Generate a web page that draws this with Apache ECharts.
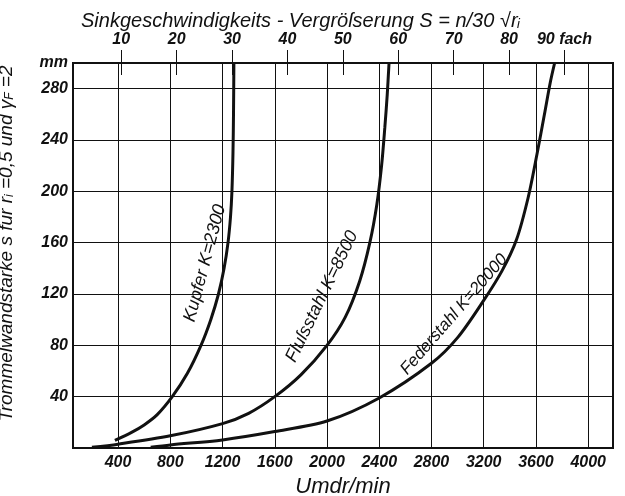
<!DOCTYPE html>
<html>
<head>
<meta charset="utf-8">
<script src="https://cdn.jsdelivr.net/npm/echarts@6.0.0/dist/echarts.min.js"></script>
<style>
  html, body { margin: 0; padding: 0; background: #fff; }
  #main { width: 625px; height: 496px; }
</style>
</head>
<body>
<div id="main"></div>
<script>
// Umdrehungen pro Minute (untere Achse)
const nTicks = [400, 800, 1200, 1600, 2000, 2400, 2800, 3200, 3600, 4000];
// Vergroesserung S (obere Achse)
const sTicks = [10, 20, 30, 40, 50, 60, 70, 80, 90];
// Wandstaerke mm
const yTicks = [40, 80, 120, 160, 200, 240, 280];

const nMin = 55;
const nMax = 4190;
const sMax = 300;
// S = n/30 * sqrt(r_i), r_i = 0,5
const sFactor = Math.SQRT1_2 / 30;

// Kurven [n, s]
const kupfer = [
  [376, 6], [500, 12], [600, 18], [700, 26], [815, 40], [930, 58],
  [1035, 80], [1110, 100], [1169, 120], [1212, 140], [1242, 160],
  [1261, 180], [1272, 200], [1280, 230], [1284, 260], [1287, 300]
];
const flussstahl = [
  [200, 0.5], [400, 3], [800, 9.5], [1200, 19], [1400, 27], [1600, 40],
  [1800, 57], [2000, 80], [2140, 102], [2250, 130], [2328, 160],
  [2382, 190], [2418, 220], [2443, 250], [2461, 275], [2475, 300]
];
const federstahl = [
  [650, 0.5], [800, 2.4], [1200, 6.3], [1600, 12.8], [2000, 21],
  [2400, 39], [2800, 66], [3000, 86], [3200, 115], [3340, 138],
  [3450, 162], [3540, 195], [3610, 230], [3665, 260], [3710, 285], [3743, 300]
];

const ink = '#111';
const font = 'Liberation Sans';

function curve(name, data, label, coord, rot, size) {
  return {
    name: name,
    type: 'line',
    xAxisIndex: 0,
    yAxisIndex: 0,
    data: data,
    smooth: 0.3,
    symbol: 'none',
    lineStyle: { color: ink, width: 3 },
    markPoint: {
      symbol: 'circle',
      symbolSize: 1,
      itemStyle: { color: 'rgba(0,0,0,0)' },
      data: [{ coord: coord }],
      label: {
        show: true,
        position: 'inside',
        formatter: label,
        rotate: rot,
        color: ink,
        fontSize: size,
        fontStyle: 'italic',
        fontFamily: font
      }
    }
  };
}

const chart = echarts.init(document.getElementById('main'));

chart.setOption({
  animation: false,
  backgroundColor: '#fff',
  title: {
    text: 'Sinkgeschwindigkeits - Vergröſserung S = n/30 √rᵢ',
    left: 76,
    top: 6,
    textStyle: { color: ink, fontSize: 20, fontStyle: 'italic', fontWeight: 'normal', fontFamily: font }
  },
  grid: {
    left: 73, right: 12, top: 63, bottom: 48,
    outerBoundsMode: 'none',
    show: true,
    borderColor: ink,
    borderWidth: 2
  },
  xAxis: [
    {
      type: 'value',
      position: 'bottom',
      min: nMin,
      max: nMax,
      name: 'Umdr/min',
      nameLocation: 'middle',
      nameGap: 26,
      nameTextStyle: { color: ink, fontSize: 22, fontStyle: 'italic', fontFamily: font },
      axisLine: { lineStyle: { color: ink, width: 2 } },
      axisTick: { show: false, customValues: nTicks },
      axisLabel: {
        customValues: nTicks,
        formatter: v => String(v),
        color: ink, fontSize: 16, fontStyle: 'italic', fontWeight: 'bold', fontFamily: font, margin: 7
      },
      splitLine: { show: true, lineStyle: { color: ink, width: 1 } }
    },
    {
      type: 'value',
      position: 'top',
      min: nMin * sFactor,
      max: nMax * sFactor,
      axisLine: { show: true, lineStyle: { color: ink, width: 2 } },
      axisTick: { show: true, customValues: sTicks, length: 13, lineStyle: { color: ink, width: 1 } },
      axisLabel: {
        customValues: sTicks,
        formatter: v => v === 90 ? '90 fach' : String(v),
        color: ink, fontSize: 16, fontStyle: 'italic', fontWeight: 'bold', fontFamily: font, margin: 15
      },
      splitLine: { show: false }
    },
    {
      type: 'value',
      position: 'top',
      min: nMin * sFactor,
      max: nMax * sFactor,
      axisLine: { show: false },
      axisTick: { show: true, inside: true, customValues: sTicks, length: 12, lineStyle: { color: ink, width: 1 } },
      axisLabel: { show: false },
      splitLine: { show: false }
    }
  ],
  yAxis: {
    type: 'value',
    min: 0,
    max: sMax,
    interval: 40,
    name: 'Trommelwandstarke s fur r{sub|i} =0,5 und γ{sub|F} =2',
    nameLocation: 'middle',
    nameGap: 57,
    nameTextStyle: {
      color: ink, fontSize: 19, fontStyle: 'italic', fontFamily: font,
      padding: [0, 0, 0, 24],
      rich: { sub: { fontSize: 12, fontStyle: 'italic', fontFamily: font, color: ink, padding: [7, 0, 0, 0] } }
    },
    axisLine: { lineStyle: { color: ink, width: 2 } },
    axisTick: { show: false },
    axisLabel: {
      formatter: v => v === 0 ? '' : (v === sMax ? 'mm' : String(v)),
      color: ink, fontSize: 16, fontStyle: 'italic', fontWeight: 'bold', fontFamily: font, margin: 5
    },
    splitLine: { show: true, lineStyle: { color: ink, width: 1 } }
  },
  series: [
    curve('Kupfer', kupfer, 'Kupfer K=2300', [1066, 144], 75, 18),
    curve('Flussstahl', flussstahl, 'Fluſsstahl K=8500', [1962, 118], 64, 18),
    curve('Federstahl', federstahl, 'Federstahl K=20000', [2972, 104], 49, 17)
  ]
});
</script>
</body>
</html>
